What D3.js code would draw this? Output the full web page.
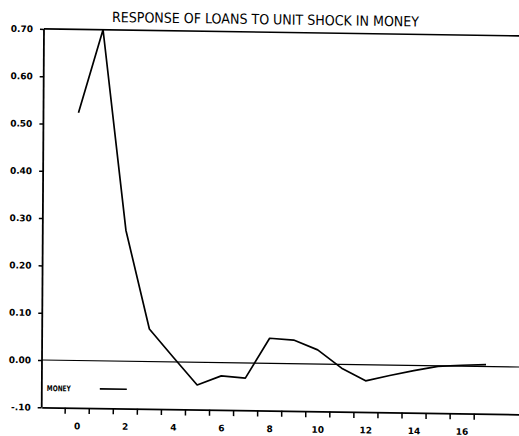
<!DOCTYPE html>
<html>
<head>
<meta charset="utf-8">
<script src="https://cdn.jsdelivr.net/npm/d3@7"></script>
<style>
  body { margin: 0; background: #fff; }
  svg { display: block; }
  .lbl { font-family: "DejaVu Sans", sans-serif; font-weight: bold; font-size: 9px; fill: #000; }
</style>
</head>
<body>
<div id="chart"></div>
<script>
// impulse response
const periods = d3.range(0, 18);
const money = [0.524, 0.70, 0.277, 0.069, 0.010, -0.048, -0.028, -0.032, 0.053,
               0.050, 0.030, -0.008, -0.034, -0.022, -0.011, -0.001, 0.002, 0.004];
const yTicks = [-0.1, 0, 0.1, 0.2, 0.3, 0.4, 0.5, 0.6, 0.7];
const xLabels = [0, 2, 4, 6, 8, 10, 12, 14, 16];
const xTicks = d3.range(-0.5, 17, 1);

const W = 519, H = 436;
const unit = 24.06;   // px per period

let svg = d3.select("#chart").append("svg")
    .attr("width", W).attr("height", H);

// the scan is slightly skewed, so tilt everything a little
let g = svg.append("g")
    .attr("transform", "translate(42,360) matrix(1,0.0147,-0.006,1,0,0) translate(-42,-360)");

let x = d3.scaleLinear()
    .domain([-35 / unit, 19.5])
    .range([42, 42 + (19.5 + 35 / unit) * unit]);

let y = d3.scaleLinear()
    .domain([-0.1, 0.7])
    .range([360 + 0.1 * 473, 360 - 0.7 * 473]);

// title
g.append("text")
    .attr("x", 110).attr("y", 21)
    .attr("textLength", 307)
    .attr("lengthAdjust", "spacingAndGlyphs")
    .style("font-family", "'DejaVu Sans Condensed', sans-serif")
    .style("font-size", "14px")
    .text("RESPONSE OF LOANS TO UNIT SHOCK IN MONEY");

// y axis
let yAxis = g.append("g")
    .attr("transform", `translate(${x.range()[0]},0)`)
    .call(d3.axisLeft(y)
        .tickValues(yTicks)
        .tickSize(4)
        .tickPadding(7)
        .tickFormat(d => d < 0 ? "-" + d3.format(".2f")(-d).slice(1) : d3.format(".2f")(d)));
yAxis.select(".domain").attr("stroke-width", 1.8).attr("d", `M0,${y(-0.1)}V${y(0.7)}`);
yAxis.selectAll(".tick line").attr("stroke-width", 1.5);
yAxis.selectAll("text").attr("class", "lbl");

// x axis ticks (between periods)
let xAxis = g.append("g")
    .attr("transform", `translate(0,${y(-0.1)})`)
    .call(d3.axisBottom(x)
        .tickValues(xTicks)
        .tickSize(6)
        .tickSizeOuter(0)
        .tickFormat(""));
xAxis.select(".domain").attr("stroke-width", 1.8);
xAxis.selectAll(".tick line").attr("stroke-width", 1.5);

// x labels
let xLab = g.append("g")
    .attr("transform", `translate(0,${y(-0.1)})`)
    .call(d3.axisBottom(x)
        .tickValues(xLabels)
        .tickSize(0)
        .tickPadding(15)
        .tickFormat(d3.format("d")));
xLab.select(".domain").remove();
xLab.selectAll("text").attr("class", "lbl");

// top line at 0.70 and zero line
g.append("line")
    .attr("x1", x.range()[0]).attr("x2", x.range()[1])
    .attr("y1", y(0.7)).attr("y2", y(0.7))
    .attr("stroke", "#000").attr("stroke-width", 1.6);
g.append("line")
    .attr("x1", x.range()[0]).attr("x2", x.range()[1])
    .attr("y1", y(0)).attr("y2", y(0))
    .attr("stroke", "#000").attr("stroke-width", 1.2);

// response line
let line = d3.line()
    .x((d, i) => x(periods[i]))
    .y(d => y(d));

g.append("path")
    .datum(money)
    .attr("fill", "none")
    .attr("stroke", "#000")
    .attr("stroke-width", 1.7)
    .attr("stroke-linejoin", "round")
    .attr("d", line);

// legend
g.append("text")
    .attr("x", 47).attr("y", 391)
    .attr("textLength", 24)
    .attr("lengthAdjust", "spacingAndGlyphs")
    .style("font-family", "'DejaVu Sans Condensed', sans-serif")
    .style("font-weight", "bold")
    .style("font-size", "8px")
    .text("MONEY");
g.append("line")
    .attr("x1", 100).attr("x2", 127)
    .attr("y1", 388).attr("y2", 388)
    .attr("stroke", "#000").attr("stroke-width", 1.7);
</script>
</body>
</html>
